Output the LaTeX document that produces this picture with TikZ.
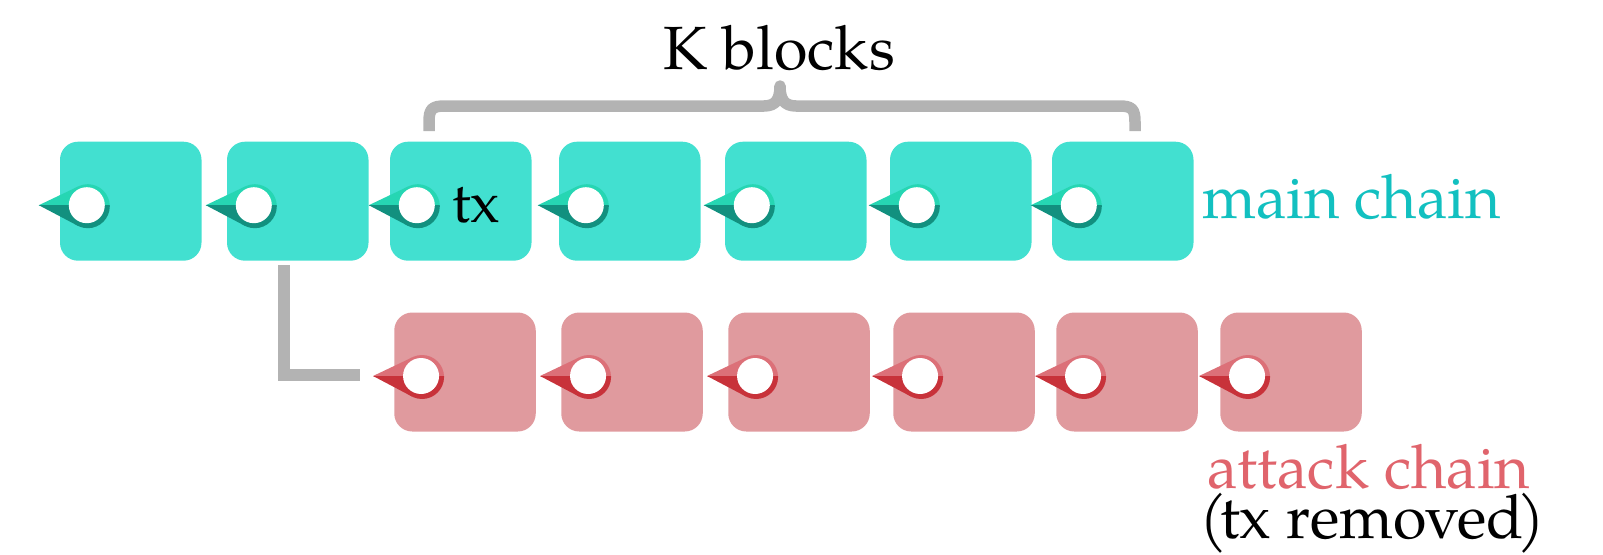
\documentclass[tikz,border=0pt]{standalone}
\usepackage{fontspec}
\setmainfont{TeX Gyre Pagella}
\usetikzlibrary{calc}
\definecolor{tealblock}{HTML}{42E0D0}
\definecolor{teallight}{HTML}{26D6B3}
\definecolor{tealdark}{HTML}{12907F}
\definecolor{tealtext}{HTML}{12C0C0}
\definecolor{redblock}{HTML}{E09A9E}
\definecolor{redlight}{HTML}{DC7078}
\definecolor{reddark}{HTML}{C8323A}
\definecolor{redtext}{HTML}{E0646C}
\definecolor{bracegray}{HTML}{B3B3B3}
\newcommand\blockptr[3]{%
  \begin{scope}[shift={($(#1.west)+(27,4)$)}]
    \begin{scope}
      \clip (-60,-40) rectangle (40,0);
      \fill[#2] (-48,0) -- (-8.9,-18.6) -- (-8.9,20.6) -- cycle;
      \fill[#2] (1,1) circle[radius=22];
    \end{scope}
    \begin{scope}
      \clip (-60,0) rectangle (40,40);
      \fill[#3] (-48,0) -- (-8.9,-18.6) -- (-8.9,20.6) -- cycle;
      \fill[#3] (1,1) circle[radius=22];
    \end{scope}
    \fill[white] (0,0) circle[radius=18];
  \end{scope}}
\tikzset{
  blk/.style={rectangle, rounded corners=18pt, minimum width=141.5pt, minimum height=119pt, inner sep=0pt, draw=none},
  mblk/.style={blk, fill=tealblock},
  ablk/.style={blk, fill=redblock},
  lbl/.style={anchor=base west, inner sep=0pt, font=\fontsize{61}{66}\selectfont},
  graybar/.style={draw=bracegray, line width=11.5pt},
}
\begin{document}
\begin{tikzpicture}[x=1pt,y=-1pt]
\useasboundingbox (0,0) rectangle (1603,554);
% main chain
\foreach \l [count=\i] in {60,227,390,559,725,890,1052}{
  \node[mblk] (m\i) at (\l+70.75,201.2) {};
}
% attack chain
\foreach \l [count=\i] in {394,561,728,893,1056,1220}{
  \node[ablk] (a\i) at (\l+71,372) {};
}
\foreach \i in {1,...,7}{\blockptr{m\i}{teallight}{tealdark}}
\foreach \i in {1,...,6}{\blockptr{a\i}{redlight}{reddark}}
% fork connector
\draw[graybar, line width=12pt, line cap=butt, line join=miter]
  ($(m2.south)+(-13.75,4.5)$) |- ($(a1.west)+(-34,3)$);
% brace
\draw[graybar, line cap=butt, line join=round]
  (429,131) -- (429,122) .. controls (429,109) and (432,106) .. (445,106)
  -- (764,106) .. controls (776,106) and (780,99) .. (780,86)
  .. controls (780,99) and (784,106) .. (796,106)
  -- (1119,106) .. controls (1132,106) and (1135,109) .. (1135,122) -- (1135,131);
\node[anchor=base, inner sep=0pt, font=\fontsize{61}{66}\selectfont] (kb) at (779,69.5) {K blocks};
\node[lbl, font=\fontsize{57}{62}\selectfont] (tx) at (452,222) {tx};
\node[lbl, text=tealtext] (mc) at (1202,218) {main chain};
\node[lbl, text=redtext] (ac) at (1207,488) {attack chain};
\node[lbl] (rm) at (1199,538) {(\kern-7pt tx removed\kern-7pt)};
\end{tikzpicture}
\end{document}
